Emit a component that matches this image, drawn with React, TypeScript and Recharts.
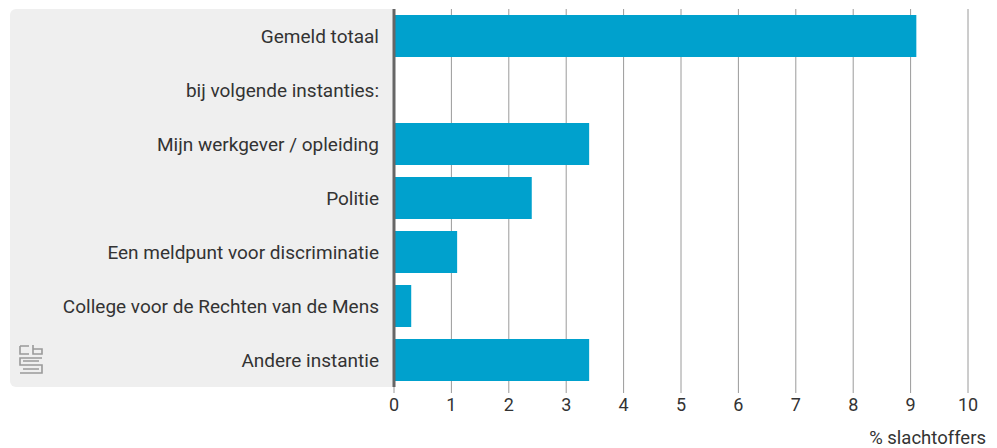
import React from "react";
import { BarChart, Bar, XAxis, YAxis, CartesianGrid, Label } from "recharts";

const categories = [
  "Gemeld totaal",
  "bij volgende instanties:",
  "Mijn werkgever / opleiding",
  "Politie",
  "Een meldpunt voor discriminatie",
  "College voor de Rechten van de Mens",
  "Andere instantie",
];

const values: (number | null)[] = [9.1, null, 3.4, 2.4, 1.1, 0.3, 3.4];

const xTicks = [0, 1, 2, 3, 4, 5, 6, 7, 8, 9, 10];

const data = categories.map((name, i) => ({ name, value: values[i] }));

const FONT = "Roboto, 'Noto Sans', sans-serif";

const CbsLogo: React.FC = () => (
  <svg width="26" height="32" viewBox="0 0 26 32" style={{ position: "absolute", left: 19, top: 344 }}>
    <g fill="none" stroke="#9a9a9a" strokeWidth="1.6">
      <path d="M1 2 H10 M1 2 V10 H10" />
      <path d="M14 1 V10 H23 V5 H14" />
      <path d="M23 14 H1 V21 H23 V29 H1" />
      <path d="M20 17 H4 M4 25 H20" />
    </g>
  </svg>
);

const App: React.FC = () => {
  return (
    <div style={{ position: "absolute", left: 0, top: 0, width: 997, height: 448, fontFamily: FONT }}>
      <div
        style={{
          position: "absolute",
          left: 10,
          top: 9,
          width: 384,
          height: 378,
          background: "#efefef",
          borderRadius: "6px 0 0 6px",
        }}
      />
      <CbsLogo />
      <div style={{ position: "absolute", left: 0, top: 0 }}>
        <BarChart
          width={997}
          height={448}
          data={data}
          layout="vertical"
          barCategoryGap={6}
          margin={{ top: 9, right: 29, left: 0, bottom: 0 }}
        >
          <CartesianGrid horizontal={false} stroke="#9a9a9a" verticalValues={xTicks} />
          <XAxis
            type="number"
            domain={[0, 10]}
            ticks={xTicks}
            axisLine={false}
            tickLine={{ stroke: "#9a9a9a" }}
            tickSize={6}
            tick={{ fill: "#333", fontSize: 18, fontFamily: FONT }}
            tickMargin={5}
            height={61}
          >
            <Label
              value="% slachtoffers"
              position="insideBottomRight"
              offset={4}
              style={{ fill: "#333", fontSize: 18.5, fontFamily: FONT, textAnchor: "end" }}
              dx={22}
            />
          </XAxis>
          <YAxis
            type="category"
            dataKey="name"
            width={394}
            axisLine={{ stroke: "#666", strokeWidth: 3 }}
            tickLine={false}
            tickMargin={9}
            tick={{ fill: "#333", fontSize: 19, fontFamily: FONT }}
          />
          <Bar dataKey="value" fill="#00a1cd" isAnimationActive={false} />
        </BarChart>
      </div>
    </div>
  );
};

export default App;
